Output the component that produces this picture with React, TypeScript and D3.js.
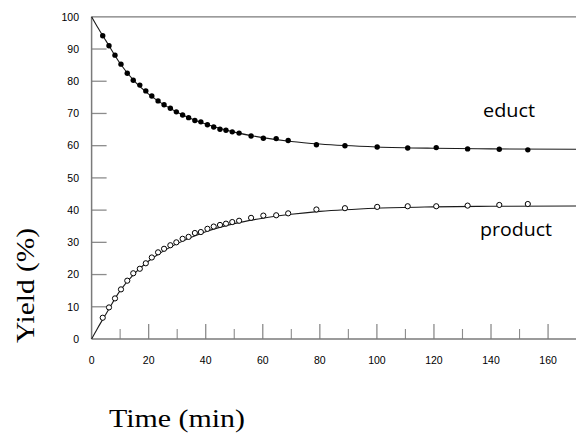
import React from "react";
import * as d3 from "d3";

const times = [3.9, 6.1, 8.2, 10.3, 12.5, 14.6, 16.9, 19.0, 21.1, 23.3, 25.4, 27.6, 29.7, 31.9, 34.0, 36.2, 38.3, 40.6, 42.8, 45.0, 47.1, 49.3, 51.7, 55.9, 60.2, 64.7, 68.9, 78.8, 88.8, 100.1, 110.8, 120.8, 131.8, 142.9, 152.9];
const educt = [94.1, 91.0, 88.1, 85.3, 82.5, 80.3, 78.8, 77.0, 75.4, 73.9, 72.7, 71.6, 70.5, 69.5, 68.7, 67.8, 67.4, 66.5, 65.8, 65.1, 64.8, 64.3, 63.9, 63.0, 62.3, 62.2, 61.6, 60.3, 60.0, 59.6, 59.3, 59.4, 59.0, 58.9, 58.7];
const product = [6.6, 9.8, 12.6, 15.4, 18.1, 20.4, 21.8, 23.5, 25.3, 26.9, 28.0, 29.1, 30.0, 31.1, 31.7, 32.9, 33.2, 34.2, 34.9, 35.4, 35.8, 36.3, 36.7, 37.6, 38.3, 38.4, 39.0, 40.2, 40.6, 41.0, 41.2, 41.2, 41.4, 41.6, 41.9];

const fitTimes = [0, 2, 5, 10, 15, 20, 25, 30, 40, 50, 60, 70, 80, 100, 120, 140, 170];
const eductFit = [100, 96.9, 92.6, 85.5, 80.0, 76.0, 72.9, 70.4, 66.7, 64.2, 62.5, 61.3, 60.5, 59.6, 59.2, 59.0, 58.9];
const productFit = [0, 3.2, 7.7, 15.0, 20.3, 24.2, 27.2, 29.6, 33.3, 35.8, 37.5, 38.7, 39.6, 40.6, 41.0, 41.2, 41.3];

const xTicks = [0, 20, 40, 60, 80, 100, 120, 140, 160];
const xMinorTicks = [10, 30, 50, 70, 90, 110, 130, 150, 170];
const yTicks = [0, 10, 20, 30, 40, 50, 60, 70, 80, 90, 100];

const W = 576;
const H = 436;

export default function App() {
  const x = d3.scaleLinear().domain([0, 170]).range([91.6, 576.6]);
  const y = d3.scaleLinear().domain([0, 100]).range([339, 16.8]);

  const line = d3
    .line<[number, number]>()
    .x((d) => x(d[0]))
    .y((d) => y(d[1]))
    .curve(d3.curveMonotoneX);

  const eductPath = line(fitTimes.map((t, i) => [t, eductFit[i]]) as [number, number][]) || "";
  const productPath = line(fitTimes.map((t, i) => [t, productFit[i]]) as [number, number][]) || "";

  const axisColor = "#7a7a7a";
  const tickColor = "#8c8c8c";
  const serif = "Liberation Serif";
  const sans = "'Open Sans', 'Noto Sans', sans-serif";

  return (
    <svg
      width={W}
      height={H}
      style={{ position: "absolute", left: 0, top: 0, background: "#fff" }}
    >
      <rect x={0} y={0} width={W} height={H} fill="#fff" />
      {yTicks.slice(1, -1).map((v) => (
        <line key={"yt" + v} x1={x(0)} x2={x(0) + 15} y1={y(v)} y2={y(v)} stroke={tickColor} strokeWidth={1.3} />
      ))}
      {xTicks.slice(1).map((v) => (
        <line key={"xt" + v} x1={x(v)} x2={x(v)} y1={y(0)} y2={y(0) - 15} stroke={tickColor} strokeWidth={1.3} />
      ))}
      {xMinorTicks.slice(0, -1).map((v) => (
        <line key={"xm" + v} x1={x(v)} x2={x(v)} y1={y(0)} y2={y(0) - 10} stroke={tickColor} strokeWidth={1.1} />
      ))}
      <line x1={x(0)} x2={W} y1={y(100)} y2={y(100)} stroke={axisColor} strokeWidth={1.3} />
      <line x1={x(0)} x2={W} y1={y(0)} y2={y(0)} stroke={axisColor} strokeWidth={1.5} />
      <line x1={x(0)} x2={x(0)} y1={y(100)} y2={y(0)} stroke={axisColor} strokeWidth={1.5} />

      {yTicks.map((v) => (
        <text
          key={"yl" + v}
          x={79}
          y={y(v)}
          dy="0.36em"
          textAnchor="end"
          fontFamily="'Liberation Sans', Arial, sans-serif"
          fontSize={10.5}
          fill="#000"
        >
          {v}
        </text>
      ))}
      {xTicks.map((v) => (
        <text
          key={"xl" + v}
          x={x(v)}
          y={364}
          textAnchor="middle"
          fontFamily="'Liberation Sans', Arial, sans-serif"
          fontSize={10.5}
          fill="#000"
        >
          {v}
        </text>
      ))}

      <path d={eductPath} fill="none" stroke="#1a1a1a" strokeWidth={1.1} />
      <path d={productPath} fill="none" stroke="#1a1a1a" strokeWidth={1.1} />

      {times.map((t, i) => (
        <circle key={"e" + i} cx={x(t)} cy={y(educt[i])} r={2.7} fill="#000" />
      ))}
      {times.map((t, i) => (
        <circle key={"p" + i} cx={x(t)} cy={y(product[i])} r={2.6} fill="#fff" stroke="#000" strokeWidth={1} />
      ))}

      <text x={483} y={117} fontFamily={sans} fontSize={18} fill="#000" textLength={52} lengthAdjust="spacingAndGlyphs">
        educt
      </text>
      <text x={480} y={236} fontFamily={sans} fontSize={18} fill="#000" textLength={72} lengthAdjust="spacingAndGlyphs">
        product
      </text>

      <text
        transform={`translate(34, 285.5) rotate(-90)`}
        textAnchor="middle"
        fontFamily={serif}
        fontSize={26}
        fontWeight={400}
        fill="#000"
        textLength={115}
        lengthAdjust="spacingAndGlyphs"
      >
        Yield (%)
      </text>
      <text
        x={109}
        y={427}
        fontFamily={serif}
        fontSize={26}
        fontWeight={400}
        fill="#000"
        textLength={136}
        lengthAdjust="spacingAndGlyphs"
      >
        Time (min)
      </text>
    </svg>
  );
}
